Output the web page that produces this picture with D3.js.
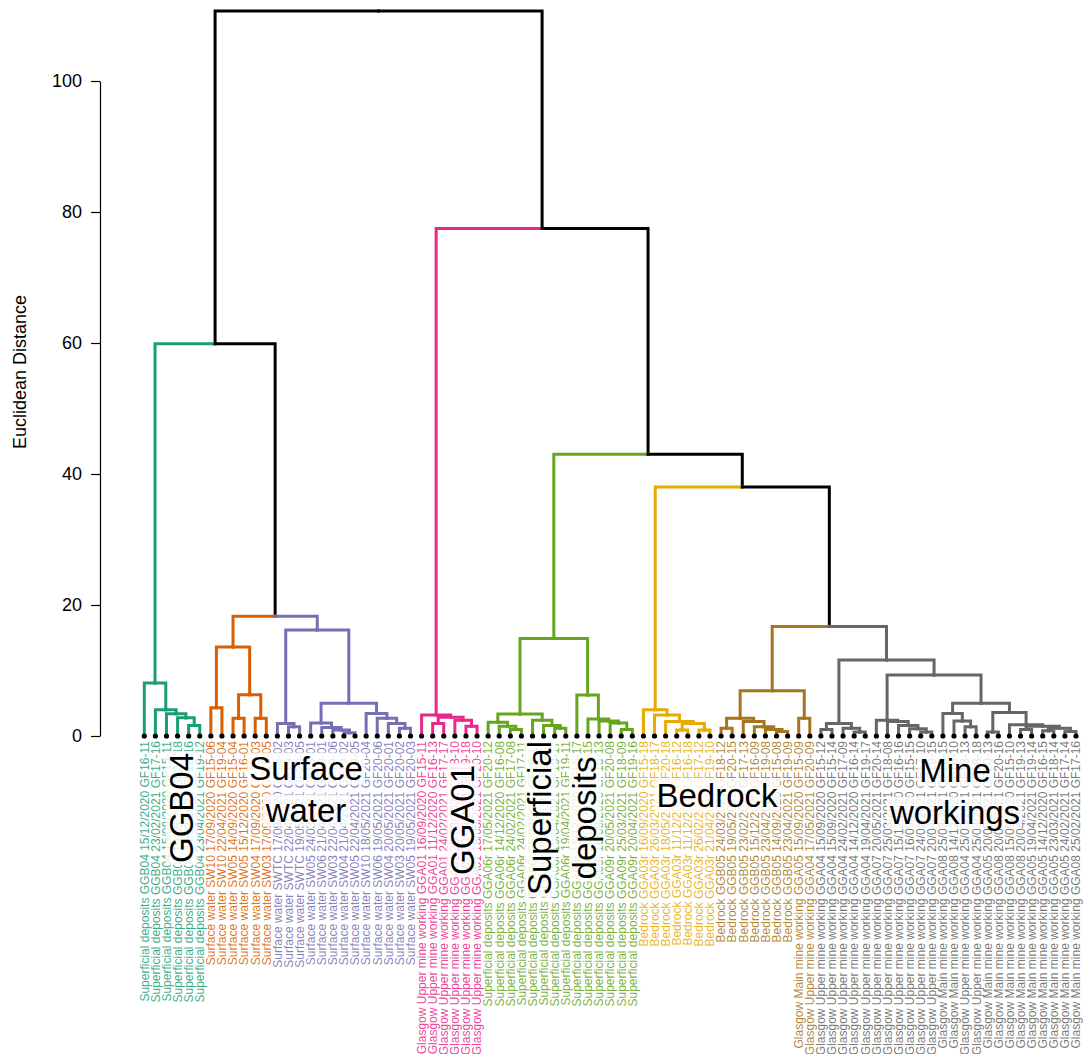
<!DOCTYPE html>
<html>
<head>
<meta charset="utf-8">
<script src="https://cdn.jsdelivr.net/npm/d3@7"></script>
<style>
  html, body { margin: 0; padding: 0; background: #fff; }
  svg { display: block; font-family: "Liberation Sans", Arial, sans-serif; }
</style>
</head>
<body>
<svg id="chart" width="1083" height="1054"></svg>
<script>
// ---------------- DATA ----------------
const leafLabels = [
  // GGB04 (teal)
  "Superficial deposits GGB04 15/12/2020 GF16-11",
  "Superficial deposits GGB04 23/02/2021 GF17-16",
  "Superficial deposits GGB04 15/09/2020 GF15-11",
  "Superficial deposits GGB04 19/05/2021 GF20-18",
  "Superficial deposits GGB04 24/03/2021 GF18-16",
  "Superficial deposits GGB04 23/04/2021 GF19-12",
  // Surface water (orange)
  "Surface water SW10 17/09/2020 GF15-06",
  "Surface water SW10 22/04/2021 GF19-04",
  "Surface water SW05 14/09/2020 GF15-04",
  "Surface water SW05 15/12/2020 GF16-01",
  "Surface water SW04 17/09/2020 GF15-03",
  "Surface water SW03 17/09/2020 GF15-05",
  // Surface water (purple)
  "Surface water SWTC 17/09/2020 GF15-02",
  "Surface water SWTC 22/04/2021 GF19-03",
  "Surface water SWTC 19/05/2021 GF20-05",
  "Surface water SW05 24/03/2021 GF18-01",
  "Surface water SW06 21/04/2021 GF19-01",
  "Surface water SW03 22/04/2021 GF19-06",
  "Surface water SW04 21/04/2021 GF19-02",
  "Surface water SW05 22/04/2021 GF19-05",
  "Surface water SW10 18/05/2021 GF20-04",
  "Surface water SW06 19/05/2021 GF20-06",
  "Surface water SW04 20/05/2021 GF20-01",
  "Surface water SW03 20/05/2021 GF20-02",
  "Surface water SW05 19/05/2021 GF20-03",
  // GGA01 (pink)
  "Glasgow Upper mine working GGA01 16/09/2020 GF15-11",
  "Glasgow Upper mine working GGA01 11/12/2020 GF16-13",
  "Glasgow Upper mine working GGA01 24/02/2021 GF17-17",
  "Glasgow Upper mine working GGA01 25/03/2021 GF18-10",
  "Glasgow Upper mine working GGA01 20/04/2021 GF19-18",
  "Glasgow Upper mine working GGA01 18/05/2021 GF20-10",
  // Superficial deposits (green)
  "Superficial deposits GGA06r 17/05/2021 GF20-12",
  "Superficial deposits GGA06r 14/12/2020 GF16-08",
  "Superficial deposits GGA06r 24/02/2021 GF17-08",
  "Superficial deposits GGA06r 24/02/2021 GF17-11",
  "Superficial deposits GGA06r 25/03/2021 GF18-17",
  "Superficial deposits GGA06r 25/03/2021 GF18-11",
  "Superficial deposits GGA06r 19/04/2021 GF19-17",
  "Superficial deposits GGA06r 19/04/2021 GF19-11",
  "Superficial deposits GGA09r 15/12/2020 GF16-17",
  "Superficial deposits GGA09r 24/02/2021 GF17-15",
  "Superficial deposits GGA09r 16/09/2020 GF15-13",
  "Superficial deposits GGA09r 20/05/2021 GF20-08",
  "Superficial deposits GGA09r 25/03/2021 GF18-09",
  "Superficial deposits GGA09r 20/04/2021 GF19-16",
  // Bedrock GGA03r (yellow)
  "Bedrock GGA03r 16/09/2020 GF15-18",
  "Bedrock GGA03r 26/03/2021 GF18-17",
  "Bedrock GGA03r 18/05/2021 GF20-18",
  "Bedrock GGA03r 11/12/2020 GF16-12",
  "Bedrock GGA03r 11/12/2020 GF16-18",
  "Bedrock GGA03r 26/02/2021 GF17-12",
  "Bedrock GGA03r 21/04/2021 GF19-10",
  // Bedrock GGB05 (brown)
  "Bedrock GGB05 24/03/2021 GF18-12",
  "Bedrock GGB05 19/05/2021 GF20-15",
  "Bedrock GGB05 23/02/2021 GF17-13",
  "Bedrock GGB05 15/12/2020 GF16-09",
  "Bedrock GGB05 23/04/2021 GF19-08",
  "Bedrock GGB05 14/09/2020 GF15-08",
  "Bedrock GGB05 23/04/2021 GF19-09",
  "Glasgow Main mine working GGA05 15/09/2020 GF15-09",
  "Glasgow Upper mine working GGA04 17/05/2021 GF20-09",
  // Mine workings (gray)
  "Glasgow Upper mine working GGA04 15/09/2020 GF15-12",
  "Glasgow Upper mine working GGA04 15/09/2020 GF15-14",
  "Glasgow Upper mine working GGA04 24/02/2021 GF17-09",
  "Glasgow Upper mine working GGA04 14/12/2020 GF16-14",
  "Glasgow Upper mine working GGA04 19/04/2021 GF19-17",
  "Glasgow Upper mine working GGA07 20/05/2021 GF20-14",
  "Glasgow Upper mine working GGA07 25/03/2021 GF18-08",
  "Glasgow Upper mine working GGA07 15/12/2020 GF16-16",
  "Glasgow Upper mine working GGA07 16/09/2020 GF15-15",
  "Glasgow Upper mine working GGA07 24/02/2021 GF17-10",
  "Glasgow Upper mine working GGA07 20/04/2021 GF19-15",
  "Glasgow Main mine working GGA08 25/03/2021 GF18-15",
  "Glasgow Main mine working GGA08 14/12/2020 GF16-10",
  "Glasgow Upper mine working GGA04 25/03/2021 GF18-13",
  "Glasgow Upper mine working GGA04 25/03/2021 GF18-18",
  "Glasgow Main mine working GGA05 20/05/2021 GF20-13",
  "Glasgow Main mine working GGA08 20/05/2021 GF20-16",
  "Glasgow Main mine working GGA08 15/09/2020 GF15-10",
  "Glasgow Main mine working GGA08 20/04/2021 GF19-13",
  "Glasgow Main mine working GGA05 19/04/2021 GF19-14",
  "Glasgow Main mine working GGA05 14/12/2020 GF16-15",
  "Glasgow Main mine working GGA05 23/03/2021 GF18-14",
  "Glasgow Main mine working GGA05 24/02/2021 GF17-14",
  "Glasgow Main mine working GGA08 25/02/2021 GF17-16"
];

const clusterSizes  = [6, 6, 13, 6, 14, 7, 9, 24];
const clusterColors = ["#1B9E77", "#D95F02", "#7570B3", "#E7298A", "#66A61E", "#E6AB02", "#A6761D", "#666666"];

// Subtrees: [left, right, mergeHeight]; integers are leaf indices
const tealTree   = [0, [1, [2, [3, [4, 5, 1.6], 2.8], 3.4], 4.0], 8.1];
const orangeTree = [[6, 7, 4.3], [[8, 9, 2.7], [10, 11, 2.7], 6.3], 13.6];
const purpleTree = [[12, [13, 14, 1.4], 1.9],
                    [[15, [16, [17, [18, 19, 0.5], 0.9], 1.3], 2.0],
                     [20, [21, [22, [23, 24, 1.2], 1.9], 2.7], 3.45], 5.0], 16.2];
const pinkTree   = [25, [[26, 27, 1.9], [28, [29, 30, 1.5], 2.4], 2.85], 3.2];
const greenTree  = [[[31, [32, [33, 34, 1.0], 1.5], 2.1], [35, [36, [37, 38, 1.2], 1.6], 2.4], 3.35],
                    [39, [40, [41, [42, [43, 44, 1.0], 2.0], 2.3], 2.6], 6.25], 14.9];
const yellowTree = [45, [46, [47, [[48, 49, 0.9], [50, 51, 0.9], 1.9], 2.2], 3.2], 4.0];
const brownTree  = [[[52, 53, 1.2], [54, [55, [56, [57, 58, 0.7], 1.0], 1.4], 2.2], 2.7], [59, 60, 2.7], 6.9];
const grayLeft   = [[61, 62, 1.0], [63, [64, 65, 0.6], 1.2], 1.9];
const grayMid    = [66, [67, [68, [69, [70, 71, 0.6], 1.1], 1.6], 2.2], 2.4];
const grayRight1 = [72, [73, [74, 75, 1.4], 2.3], 3.45];
const grayRight2 = [[76, 77, 0.6], [78, [[79, 80, 1.0], [[81, 82, 0.8], [83, 84, 0.7], 1.2], 1.5], 1.7], 3.6];
const grayTree   = [grayLeft, [grayMid, [grayRight1, grayRight2, 5.0], 9.3], 11.6];

// Upper merges (heights of joins between clusters)
const topHeights = { surfaceWater: 18.3, leftGroup: 59.9, mineGray: 16.7, bedrockAll: 38.0, restGroup: 43.0, rightGroup: 77.5, root: 110.7 };

const yTicks = [0, 20, 40, 60, 80, 100];
const groupLabels = [["GGB04"], ["Surface", "water"], ["GGA01"], ["Superficial", "deposits"], ["Bedrock"], ["Mine", "workings"]];

// ---------------- BUILD TREE ----------------
const fullTree = [
  [tealTree, [orangeTree, purpleTree, topHeights.surfaceWater], topHeights.leftGroup],
  [pinkTree,
    [greenTree,
      [yellowTree, [brownTree, grayTree, topHeights.mineGray], topHeights.bedrockAll],
      topHeights.restGroup],
    topHeights.rightGroup],
  topHeights.root
];

const leafCluster = [];
clusterSizes.forEach((n, ci) => { for (let i = 0; i < n; i++) leafCluster.push(ci); });

function toNode(t) {
  if (typeof t === "number") return { leaf: t, h: 0 };
  return { h: t[2], children: [toNode(t[0]), toNode(t[1])] };
}
const root = d3.hierarchy(toNode(fullTree));

// ---------------- SCALES ----------------
const svg = d3.select("#chart");
const x = d3.scaleLinear().domain([0, leafLabels.length - 1]).range([144.3, 1076]);
const y = d3.scaleLinear().domain([0, 100]).range([736, 81]);

root.eachAfter(n => {
  if (!n.children) { n.px = x(n.data.leaf); n.cl = leafCluster[n.data.leaf]; }
  else {
    n.px = d3.mean(n.children, c => c.px);
    const cs = new Set(n.children.map(c => c.cl));
    n.cl = (cs.size === 1 && !cs.has(-1)) ? n.children[0].cl : -1;
  }
});
const colorOf = n => n.cl >= 0 ? clusterColors[n.cl] : "#000000";

// ---------------- BRANCHES ----------------
const gB = svg.append("g");
gB.selectAll("path")
  .data(root.descendants().filter(d => d.parent))
  .join("path")
  .attr("d", d => `M${d.px},${y(d.data.h)}V${y(d.parent.data.h)}H${d.parent.px}`)
  .attr("fill", "none")
  .attr("stroke", d => colorOf(d))
  .attr("stroke-width", 3)
  .attr("stroke-linejoin", "miter")
  .attr("stroke-linecap", "square");

// leaf dots
svg.append("g").selectAll("circle")
  .data(root.leaves())
  .join("circle")
  .attr("cx", d => d.px).attr("cy", y(0)).attr("r", 2.6).attr("fill", "#000");

// leaf labels
svg.append("g").selectAll("text")
  .data(root.leaves())
  .join("text")
  .attr("transform", d => `translate(${d.px},${y(0) + 5}) rotate(-90)`)
  .attr("text-anchor", "end")
  .attr("dy", "0.36em")
  .attr("font-size", 12)
  .attr("fill", d => clusterColors[d.cl])
  .attr("fill-opacity", 0.88)
  .text(d => leafLabels[d.data.leaf]);

// ---------------- AXIS ----------------
const axis = d3.axisLeft(y).tickValues(yTicks).tickSize(9).tickSizeOuter(0).tickPadding(9);
const gA = svg.append("g").attr("transform", "translate(100,0)").call(axis);
gA.selectAll("text").attr("font-size", 18).attr("font-family", "Liberation Sans, Arial, sans-serif").attr("fill", "#000");
gA.selectAll("line, path").attr("stroke", "#000").attr("stroke-width", 1.2);

svg.append("text")
  .attr("transform", "translate(20,372) rotate(-90)")
  .attr("text-anchor", "middle")
  .attr("dy", "0.35em")
  .attr("font-size", 18)
  .text("Euclidean Distance");

// ---------------- GROUP ANNOTATIONS ----------------
// layout (positions only): [cx, cy, rotated, lineGap]
const annotLayout = [
  [181, 808, true, 44],
  [306, 789, false, 42],
  [462, 820, true, 44],
  [562, 818, true, 45],
  [717, 795, false, 42],
  [955, 791, false, 42]
];
groupLabels.forEach((lines, i) => {
  const [cx, cy, rot, gap] = annotLayout[i];
  const g = svg.append("g").attr("transform", `translate(${cx},${cy})` + (rot ? " rotate(-90)" : ""));
  const bg = g.append("g");
  lines.forEach((ln, j) => {
    const off = (j - (lines.length - 1) / 2) * gap;
    const t = g.append("text")
      .attr("x", 0).attr("y", off)
      .attr("dy", "0.35em")
      .attr("text-anchor", "middle")
      .attr("font-size", 33)
      .attr("fill", "#000")
      .text(ln);
    const b = t.node().getBBox();
    bg.append("rect")
      .attr("x", b.x - 2).attr("y", b.y + 3).attr("width", b.width + 4).attr("height", b.height - 5)
      .attr("fill", "#fff").attr("fill-opacity", 0.82);
  });
});
</script>
</body>
</html>
